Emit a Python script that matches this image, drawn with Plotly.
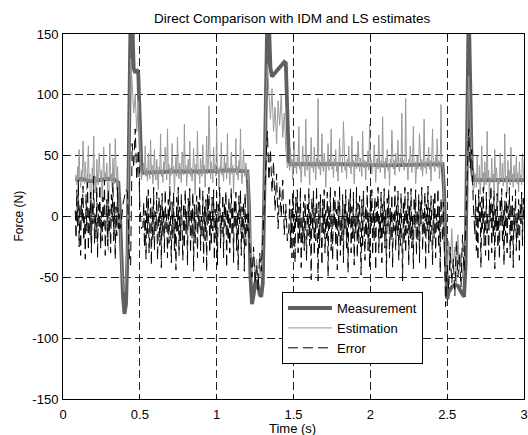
import plotly.graph_objects as go

# ---------------- data ----------------
# Measurement (smooth, thick): breakpoints (time s, force N)
meas_t = [0.08, 0.12, 0.18, 0.24, 0.30, 0.34, 0.36, 0.37, 0.38, 0.39, 0.40, 0.41, 0.42, 0.43, 0.44,
          0.45, 0.46, 0.47, 0.48, 0.49, 0.50, 0.51, 0.52, 0.70, 0.90, 1.10, 1.20,
          1.21, 1.22, 1.23, 1.24, 1.25, 1.26, 1.27, 1.28, 1.29, 1.30, 1.31, 1.32, 1.33, 1.34,
          1.35, 1.36, 1.38, 1.40, 1.42, 1.44, 1.45, 1.46, 1.47, 1.48, 1.80, 2.10, 2.40, 2.47,
          2.48, 2.49, 2.50, 2.51, 2.53, 2.55, 2.57, 2.59, 2.61, 2.62, 2.63, 2.64, 2.65, 2.66,
          2.67, 2.80, 3.00]
meas_v = [30, 31, 29, 30, 31, 30, 28, 5, -35, -65, -80, -72, -30, 90, 170,
          165, 122, 118, 121, 117, 80, 40, 36, 37, 37, 38, 37,
          10, -50, -72, -65, -55, -52, -58, -64, -66, -55, 20, 120, 170, 160,
          122, 115, 118, 121, 124, 127, 126, 80, 45, 43, 43, 42, 43, 43,
          20, -40, -68, -62, -58, -56, -57, -62, -66, -40, 100, 175, 110, 40,
          30, 30, 30]

# Estimation / Error, in segments: (start time, sample step, values)
seg_start = [0.08, 0.37, 0.52, 1.21, 1.47, 2.48, 2.68]
seg_step = [0.005, 0.01, 0.005, 0.01, 0.005, 0.01, 0.005]

est_A = [30, 34, 26, 41, 29, 55, 31, 24, 38, 28,
         62, 33, 27, 45, 30, 22, 36, 58, 29, 35,
         -22, 25, 40, 31, 66, 28, 33, 19, 47, 30,
         26, 52, 34, 29, 38, 12, 31, 57, 27, 36,
         30, 44, 25, -28, 32, 60, 29, 35, 24, 48,
         31, 27, 64, 30, 22, 41, 18, 10]
est_T1 = [-5, -40, -55, -62, -50, -10, 60, 130, 110, 85, 100, 70, 95, 55, 30]
est_B = [38, 44, 35, 58, 33, 40, 29, 52, 37, 31,
         63, 36, 42, 27, 39, 55, 34, 30, 47, 38,
         22, 41, 36, 68, 33, 39, 28, 45, 37, 57,
         35, 30, 72, 38, 43, 26, 40, 34, 60, 36,
         41, 20, 37, 49, 33, 65, 39, 31, 44, 36,
         28, 53, 38, 34, 76, 37, 42, 25, 39, 47,
         35, 62, 33, 40, 29, 38, 56, 36, 18, 43,
         37, 70, 34, 39, 27, 48, 38, 33, 59, 36,
         42, 24, 38, 66, 35, 40, 91, 36, 31, 45,
         38, 28, 57, 37, 43, 33, 74, 35, 39, 22,
         41, 36, 61, 34, 38, 29, 50, 37, 44, 31,
         68, 36, 40, 26, 38, 53, 35, 42, 19, 39,
         37, 64, 34, 41, 30, 46, 38, 72, 35, 27,
         40, 55, 36, 33, 44, 38, 30, 37]
est_T2 = [15, -20, -45, -30, -50, -35, -55, -40, -50, -30, 30, 95, 125, 100, 80, 105, 70, 90,
          60, 95, 75, 100, 65, 85, 55, 40]
est_C = [44, 38, 56, 41, 47, 30, 45, 62, 40, 43,
         35, 49, 42, 74, 39, 44, 28, 46, 58, 41,
         45, 33, 80, 42, 38, 50, 44, 26, 47, 65,
         40, 44, 36, 57, 43, 30, 48, 41, 97, 39,
         46, 34, 43, 68, 42, 37, 52, 44, 24, 45,
         41, 60, 38, 47, 43, 72, 39, 45, 32, 48,
         42, 55, 37, 44, 29, 46, 64, 41, 43, 36,
         49, 78, 42, 38, 45, 31, 47, 43, 58, 40,
         44, 35, 66, 42, 46, 27, 43, 51, 39, 45,
         62, 41, 37, 48, 43, 33, 70, 44, 40, 46,
         30, 45, 42, 54, 38, 76, 43, 47, 35, 44,
         41, 59, 45, 28, 43, 48, 39, 67, 44, 36,
         46, 42, 82, 40, 45, 31, 48, 43, 55, 38,
         44, 25, 47, 41, 71, 43, 39, 46, 34, 52,
         42, 45, 63, 40, 37, 48, 44, 85, 41, 46,
         38, 43, 97, 45, 40, 30, 47, 42, 58, 44,
         36, 48, 74, 41, 45, 27, 43, 50, 39, 46,
         68, 42, 38, 47, 33, 44, 80, 40, 45, 35,
         48, 43, 57, 39, 46, 29, 44, 72, 41, 45,
         37, 49, 43, 64, 40, 46, 31, 44, 92, 42,
         45, 38]
est_T3 = [10, -30, -50, -20, -45, -10, -40, -25, -55, -15, -45, -30, -50, -35, -20, 60, 115, 80,
          45, 20]
est_D = [28, 35, 24, 50, 31, 27, 42, 18, 33, 58,
         29, 36, 22, 45, 30, 26, 70, 31, 38, 15,
         32, 28, 48, 30, 35, 21, 55, 29, 40, 33,
         12, 31, 27, 52, 34, 30, 44, 25, 36, 68,
         28, 33, 19, 46, 31, 38, 26, 57, 30, 35,
         24, 42, 29, 32, 50, 27, 36, 20, 45, 31,
         34, 26, 52, 30, 28]

err_A = [5, -18, 22, -8, 30, -25, 10, -32, 15, -5,
         25, -20, 0, -35, 18, -12, 28, -28, 8, -15,
         20, -30, 12, -6, 33, -22, 2, -18, 24, -34,
         10, -10, 26, -26, 4, -20, 16, -8, 30, -32,
         -2, 14, -24, 22, -14, 6, -30, 18, -4, 28,
         -20, 12, -35, 8, -16, 24, -10, 2]
err_T1 = [-10, -5, 10, 18, 22, 20, -30, -40, 60, 40, 72, 30, 55, 10, -10]
err_B = [-8, 12, -25, 5, -35, 18, -14, 22, -30, 0,
         15, -40, 8, -20, 24, -28, 4, -12, 20, -36,
         -2, 16, -24, 10, -42, 19, -16, 6, -30, 22,
         -10, 2, -34, 14, -22, 25, -6, -38, 12, -18,
         20, -28, 0, -44, 16, -12, 24, -32, 8, -20,
         18, -4, -36, 11, -26, 22, -14, 4, -40, 15,
         -8, 23, -30, 6, -18, 20, -45, 10, -22, 2,
         17, -34, 12, -10, 25, -28, 0, -16, 21, -38,
         8, -20, 14, -45, 18, -6, 24, -30, 4, -24,
         16, -12, 22, -36, 6, -18, 20, -40, 10, -4,
         24, -26, 2, -14, 18, -34, 12, -8, 21, -42,
         6, -20, 15, -30, 0, 23, -16, 9, -38, 14,
         -10, 20, -28, 4, -44, 17, -6, 22, -32, 8,
         -18, 12, -45, 19, -24, 2, -12, 5]
err_T2 = [-15, -35, -50, -25, -55, -40, -60, -30, -45, -20, 10, 40, 70, 30, 55, 20, 45, 5,
          35, -10, 25, 0, 30, -15, 10, -20]
err_C = [-10, 14, -26, 6, -34, 20, -12, 2, -38, 16,
         -6, 22, -30, 8, -18, 24, -42, 0, -22, 12,
         -28, 18, -8, -36, 10, -16, 23, -24, 4, -52,
         15, -12, 21, -32, 7, -20, 25, -6, -53, 12,
         -26, 18, -2, -40, 14, -14, 22, -30, 5, -18,
         20, -49, 9, -10, 24, -28, 2, -36, 16, -8,
         21, -24, 6, -44, 13, -16, 25, -32, 0, -20,
         18, -38, 10, -12, 22, -26, 4, -46, 15, -6,
         23, -30, 8, -18, 20, -40, 1, -14, 24, -34,
         11, -22, 17, -8, -48, 14, -26, 21, -4, -36,
         9, -16, 25, -28, 3, -42, 18, -10, 22, -32,
         6, -20, 16, -44, 12, -6, 24, -30, 0, -18,
         20, -38, 10, -14, 23, -26, 5, -50, 15, -8,
         22, -34, 7, -20, 18, -42, 2, -12, 25, -28,
         11, -16, 21, -36, 4, -24, 19, -9, -53, 13,
         -22, 24, -30, 6, -14, 20, -40, 9, -18, 23,
         -26, 0, -43, 16, -10, 22, -32, 5, -20, 18,
         -38, 12, -6, 24, -28, 3, -16, 20, -44, 10,
         -12, 25, -30, 7, -22, 17, -4, -40, 14, -18,
         21, -34, 2, -10, 23, -26, 8, -46, 15, -8,
         -20, 12]
err_T3 = [-30, -74, -40, -60, -25, -55, -35, -65, -20, -50, -30, -58, -15, -45, -10, 30, 72, 40,
          55, 10]
err_D = [-15, 18, -28, 8, -36, 22, -6, 12, -42, 16,
         -10, 24, -24, 4, -32, 20, -14, 2, -38, 14,
         -4, 25, -30, 10, -18, 21, -43, 6, -12, 19,
         -26, 0, -35, 15, -8, 23, -22, 5, -40, 13,
         -16, 20, -30, 9, -2, 24, -34, 11, -20, 17,
         -42, 7, -12, 22, -28, 3, -18, 14, -36, 10,
         -6, 20, -24, 15, -5]

est_segments = [est_A, est_T1, est_B, est_T2, est_C, est_T3, est_D]
err_segments = [err_A, err_T1, err_B, err_T2, err_C, err_T3, err_D]

x_ticks = [0, 0.5, 1, 1.5, 2, 2.5, 3]
x_tick_text = ["0", "0.5", "1", "1.5", "2", "2.5", "3"]
y_ticks = [-150, -100, -50, 0, 50, 100, 150]
y_tick_text = ["-150", "-100", "-50", "0", "50", "100", "150"]


def sample_times(segments):
    ts, vs = [], []
    for s0, ds, vals in zip(seg_start, seg_step, segments):
        for i, v in enumerate(vals):
            ts.append(round(s0 + i * ds, 4))
            vs.append(v)
    return ts, vs


est_t, est_v = sample_times(est_segments)
err_t, err_v = sample_times(err_segments)

# ---------------- figure ----------------
FONT = "Liberation Sans, Arial, Helvetica, sans-serif"
fig = go.Figure()
fig.add_trace(go.Scatter(x=meas_t, y=meas_v, mode="lines", name="Measurement",
                         line=dict(color="#5f5f5f", width=3.8)))
fig.add_trace(go.Scatter(x=est_t, y=est_v, mode="lines", name="Estimation",
                         line=dict(color="#999999", width=1)))
fig.add_trace(go.Scatter(x=err_t, y=err_v, mode="lines", name="Error",
                         line=dict(color="#000000", width=1, dash="10px,5px")))

axis_common = dict(showline=True, linecolor="black", linewidth=1, mirror="ticks",
                   ticks="inside", ticklen=4, tickcolor="black", automargin=False,
                   showgrid=True, gridcolor="#222222", gridwidth=1, griddash="8px,4px",
                   zeroline=False, tickfont=dict(family=FONT, size=13, color="black"))

fig.update_layout(
    width=528, height=435,
    margin=dict(l=63, r=4, t=34, b=36),
    paper_bgcolor="white", plot_bgcolor="white",
    font=dict(family=FONT, size=13, color="black"),
    title=dict(text="Direct Comparison with IDM and LS estimates", x=0.497, xref="paper",
               xanchor="center", y=0.9575, yref="container", yanchor="middle",
               font=dict(family=FONT, size=13.5, color="black")),
    xaxis=dict(range=[0, 3], tickvals=x_ticks, ticktext=x_tick_text,
               ticklabelstandoff=3, **axis_common),
    yaxis=dict(range=[-150, 150], tickvals=y_ticks, ticktext=y_tick_text,
               ticklabelstandoff=1, **axis_common),
    legend=dict(x=0.475, y=0.293, xanchor="left", yanchor="top",
                bgcolor="white", bordercolor="black", borderwidth=1,
                font=dict(family=FONT, size=13, color="black"),
                itemwidth=44, tracegroupgap=0),
    showlegend=True,
    annotations=[
        dict(text="Time (s)", xref="paper", yref="paper", x=0.497, y=-0.082,
             xanchor="center", yanchor="middle", showarrow=False,
             font=dict(family=FONT, size=13, color="black")),
        dict(text="Force (N)", xref="paper", yref="paper", x=-0.0976, y=0.5,
             xanchor="center", yanchor="middle", showarrow=False, textangle=-90,
             font=dict(family=FONT, size=12, color="black")),
    ],
)

# remove the default 8px page margin so the 528x435 figure fills the window exactly
fig.write_html("out.html", config={"displayModeBar": False},
               post_script="document.body.style.margin='0';")
